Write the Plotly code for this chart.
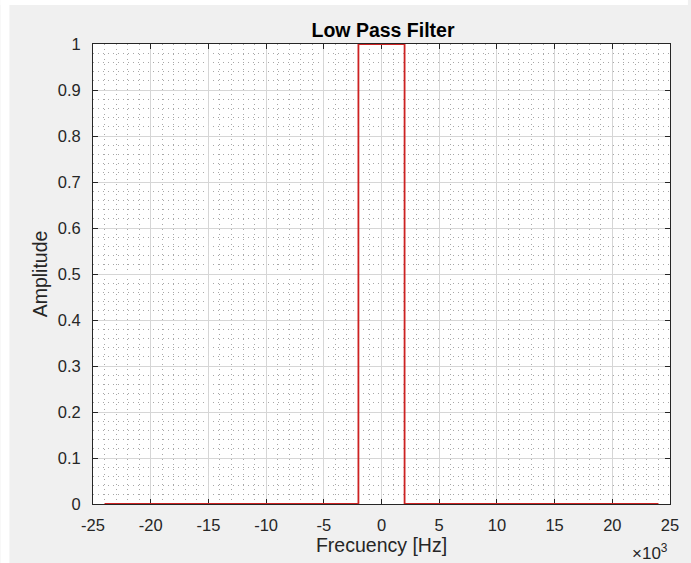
import plotly.graph_objects as go

# Ideal low-pass filter response: unit gain inside the passband, zero elsewhere
freq_hz = [-24000, -2000, -2000, 2000, 2000, 24000]
amplitude = [0, 0, 1, 1, 0, 0]

x_tick_vals = [-25000, -20000, -15000, -10000, -5000, 0, 5000, 10000, 15000, 20000, 25000]
x_tick_text = ["-25", "-20", "-15", "-10", "-5", "0", "5", "10", "15", "20", "25"]
y_tick_vals = [0, 0.1, 0.2, 0.3, 0.4, 0.5, 0.6, 0.7, 0.8, 0.9, 1]
y_tick_text = ["0", "0.1", "0.2", "0.3", "0.4", "0.5", "0.6", "0.7", "0.8", "0.9", "1"]

FONT = "Liberation Sans, Arial, Helvetica, sans-serif"
W, H = 691, 563
L, R, T, B = 93, 18, 44, 59
plot_w = W - L - R
plot_h = H - T - B

fig = go.Figure()
fig.add_trace(go.Scatter(
    x=freq_hz, y=amplitude, mode="lines",
    line=dict(color="#cc2222", width=1.8),
    hoverinfo="x+y", showlegend=False,
))

axis_common = dict(
    showline=True, linecolor="#262626", linewidth=1, mirror="ticks",
    ticks="inside", ticklen=5, tickcolor="#262626", tickwidth=1,
    showgrid=True, gridcolor="#d6d6d6", gridwidth=1,
    zeroline=False, layer="below traces",
    tickfont=dict(family=FONT, size=16.5, color="#262626"),
)
minor_grid = dict(showgrid=True, gridcolor="#a8a8a8", griddash="1px,4px", gridwidth=1, ticks="")

fig.update_xaxes(
    range=[-25000, 25000], tickvals=x_tick_vals, ticktext=x_tick_text,
    minor=dict(dtick=1000, **minor_grid),
    ticklabelstandoff=6,
    title=dict(text="Frecuency [Hz]", font=dict(family=FONT, size=19.5, color="#262626"), standoff=4),
    **axis_common,
)
fig.update_yaxes(
    range=[0, 1], tickvals=y_tick_vals, ticktext=y_tick_text,
    minor=dict(dtick=0.02, **minor_grid),
    ticklabelstandoff=8,
    title=dict(text="Amplitude", font=dict(family=FONT, size=19.5, color="#262626"), standoff=4),
    **axis_common,
)

# Thin white border along the left and top of the gray window
fig.add_shape(type="rect", xref="paper", yref="paper", layer="below",
              x0=-L / plot_w, x1=(9 - L) / plot_w,
              y0=-B / plot_h, y1=(plot_h + T) / plot_h,
              fillcolor="white", line=dict(width=0))
fig.add_shape(type="rect", xref="paper", yref="paper", layer="below",
              x0=-L / plot_w, x1=(W - L) / plot_w,
              y0=(plot_h + T - 5) / plot_h, y1=(plot_h + T) / plot_h,
              fillcolor="white", line=dict(width=0))
fig.add_shape(type="rect", xref="paper", yref="paper", layer="below",
              x0=0, x1=1, y0=0, y1=1, fillcolor="white", line=dict(width=0))

# Axis exponent label
fig.add_annotation(text="×10<sup>3</sup>", xref="paper", yref="paper",
                   x=1.0, y=-(48 / plot_h), xanchor="right", yanchor="middle",
                   showarrow=False, font=dict(family=FONT, size=17, color="#262626"))

fig.update_layout(
    width=W, height=H,
    margin=dict(l=L, r=R, t=T, b=B),
    paper_bgcolor="#f0f0f0", plot_bgcolor="white",
    title=dict(text="<b>Low Pass Filter</b>", x=(L + plot_w / 2) / W, xanchor="center",
               y=1 - 30 / H, yanchor="middle",
               font=dict(family=FONT, size=19.5, color="#000000")),
)

fig.write_html("out.html")
